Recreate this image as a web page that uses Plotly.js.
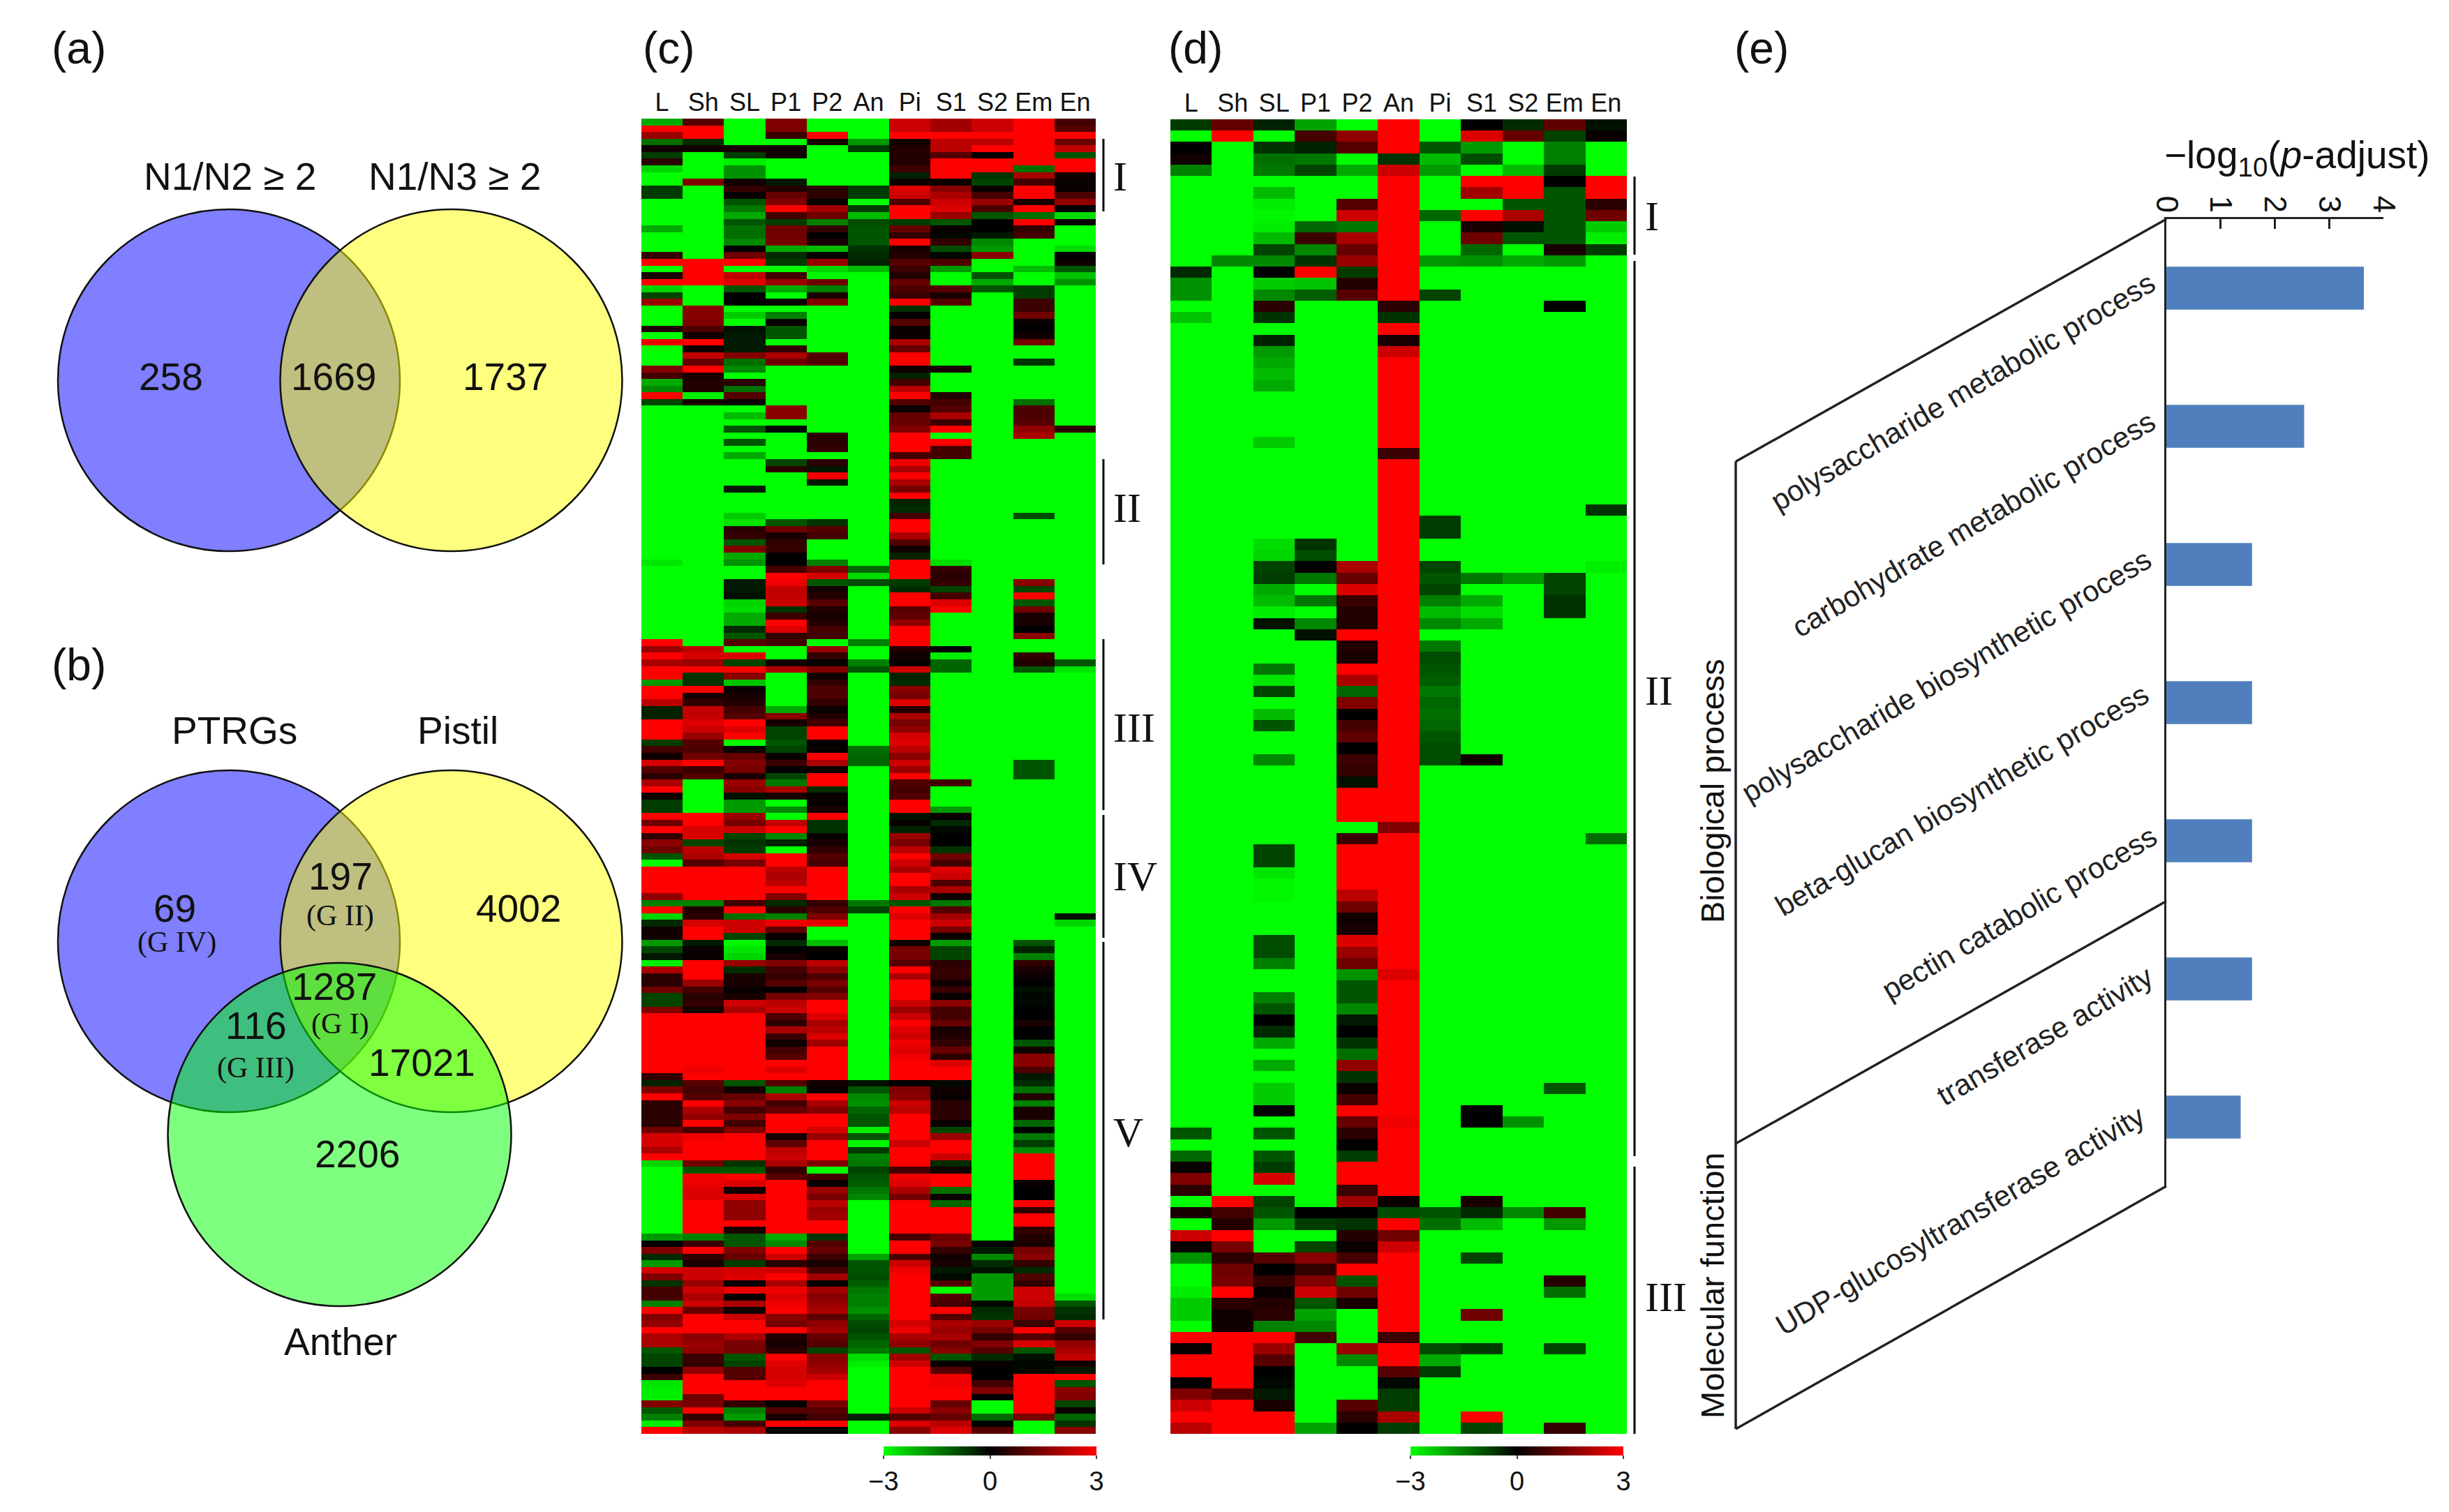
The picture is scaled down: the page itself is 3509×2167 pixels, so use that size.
<!DOCTYPE html>
<html><head><meta charset="utf-8">
<script src="https://cdn.plot.ly/plotly-3.0.1.min.js"></script>
<style>html,body{margin:0;padding:0;background:#fff}</style></head><body><div id="g" style="width:3509px;height:2167px"></div>
<script>
const tissues=["L","Sh","SL","P1","P2","An","Pi","S1","S2","Em","En"];
// (c) 197 genes, group I
const cL=[-2,3,1.8,-1.3,.2,-.7,.5,-2.5,-3,-3,
-.7,-.7,-3,-3,-3,-3,-2,-3,-3,-3,
.6,3,-3,.3,3,-2.5,-.8,1.8,-3,-3,
-3,.4,-3,2.8,-3,-3,-3,1.5,.8,-2,
-1.6,3,-.8,-3,-3,-3,-3,-3,-3,-3,
-3,-3,-3,-3,-3,-3,-3,-3,-3,-3,
-3,-3,-3,-3,-3,-3,-2.7,-3,-3,-3,
-3,-3,-3,-3,-3,-3,-3,-3,3,1.8,
3,2,3,3,-1.8,3,3,2.2,-.4,-.4,
3,3,3,-.7,.8,.2,2.5,1,.5,2,
3,.2,-.7,-.7,3,1.3,3,.6,1.6,1.3,
-1,-3,3,3,3,3,1.7,-1.5,3,-2.5,
-.5,.2,.2,-1.8,-.8,-.3,-2.8,2,.5,.5,
1.3,-.8,-.8,1.5,3,3,3,3,3,3,
3,3,3,.6,-.4,1.5,3,.5,.5,.5,
.5,1.3,2.5,2.5,2,3,-2.5,-3,-3,-3,
-3,-3,-3,-3,-3,-3,-3,-1.8,0,1.5,
-.5,-1.8,2.5,1.5,-.6,.8,.8,-1.5,3,1.5,
1.7,3,2,2,-1,-.8,-.8,0,.7,-2.7,
-2.8,-2.8,1.5,-1,-1.5,-2.8,3];
const cSh=[1,3,3,-.5,.2,-3,-3,-3,-3,1.5,
-3,-3,-3,-3,-3,-3,-3,-3,-3,-3,
-3,3,3,3,3,-3,-3,-3,1.6,1.6,
1.5,.9,.2,3,.2,2.3,1.2,3,.3,.4,
.4,-2.8,.3,-3,-3,-3,-3,-3,-3,-3,
-3,-3,-3,-3,-3,-3,-3,-3,-3,-3,
-3,-3,-3,-3,-3,-3,-3,-3,-3,-3,
-3,-3,-3,-3,-3,-3,-3,-3,-3,2.3,
2.5,1.8,3,-.6,-.6,3,.3,.6,2.3,2.3,
2.6,2.4,1.8,1,.9,1.3,3,.7,1,-3,
-3,-3,-3,-3,3,3,2.5,2.6,-.8,2.2,
2,1,3,3,3,3,3,-1.5,.4,.5,
2.5,3,3,-.3,.1,.1,3,3,3,1.8,
.8,.5,.6,.2,3,3,3,3,3,3,
3,3,2.8,3,1,.8,1,3,2,1.7,
3,.8,2.8,3,3,3,1.3,-1,2.8,2.8,
2.6,2.6,3,3,3,3,3,-1.5,.7,3,
.6,.3,2.4,2.4,1.8,2.4,2,2.4,1.2,3,
3,3,1.6,1.8,1.7,.7,.6,1.7,3,3,
3,1.3,1.4,3,.6,1.5,2.2];
const cSL=[-3,-3,-3,-3,.3,-.7,-2.8,-1.7,-1.7,.2,
.6,.1,-1,-1.4,-2,-1,-1.3,-1.3,-1.6,0,
1.3,3,-3,2.3,2.6,-1,0,0,-3,-2.4,
-3,-.2,-.3,-.3,-.3,1.5,-1.3,-1.6,-3,.5,
-1.3,1,.1,-3,-2.2,-3,-1,-3,-1,-3,
-2,-3,-3,-3,-3,-.3,-3,-3,-3,-2.4,
-2.7,.5,.6,-1,1.5,-2,-1.7,-3,-3,-.3,
-.3,-.2,-2.5,-2.6,-2,-2,-.5,-1,1,-3,
2.6,-.8,3,1.6,-2.3,.1,.3,.4,.8,1,
3,2.6,3,-3,.1,1.2,1.5,1.4,.3,1.8,
1.6,-.2,-1.8,-1.8,1.8,1.4,2.4,-.8,-.6,-.7,
2.5,1.4,3,3,3,3,3,.8,3,-1.3,
2.4,2.4,-.8,-2.9,-2.7,-2.5,1.8,-.5,.3,.3,
.1,.3,2.4,2,3,3,3,3,3,3,
3,3,3,3,-1,.2,1.2,1.6,.8,1.5,
.8,1.5,3,3,3,3,-.6,-1,3,2.6,
.2,2.6,1.7,1.7,1.7,3,.3,-1,-1,1.5,
1.2,-.7,2.5,2.6,.1,2.8,.1,2,.2,2.4,
3,3,2,1.4,1.4,-1,-.8,1,1,3,
3,3,.6,-1.5,-1.8,.8,2];
const cP1=[1.5,1.5,.7,-3,.2,.2,-3,-3,-3,-.3,
.4,1.2,1.5,3,.8,-.7,1.3,1.3,1.4,-2,
-.5,-.7,-3,.8,1.8,-2,-3,.1,-3,-1.5,
.1,-1,-1,-3,.6,2,1.3,-3,-3,-3,
-3,-3,-3,1.6,1.6,-3,0,-3,-3,-3,
-3,-.8,.5,-3,-3,-3,-3,-3,-3,-3,
-1,1.3,.3,.6,.6,0,0,.8,3,2.8,
2.3,2.3,2.4,-.6,.7,3,2.6,.6,.8,-3,
-3,.2,2,-3,-3,-3,-3,-3,-2,1.6,
.3,-.8,-.8,-1,-.8,.1,.7,0,-.8,-1.4,
2,.3,-3,-1.6,-3,2.3,3,-1.6,-.4,-3,
3,3,2.2,2,2.2,3,1.5,-.5,.5,-1.5,
2.8,1.1,.1,-.5,0,.3,1.5,.8,.6,1,
0,1.4,2.2,2.4,.9,.5,2,.7,.2,.8,
1,3,2.6,3,1,-1.5,2,.8,1.2,3,
3,3,.3,1.1,2.2,2.4,2,.6,1,3,
3,3,3,3,3,3,3,-2,-1.6,3,
2.4,.5,2.4,3,2,2.8,2.6,2.8,3,1.6,
1.4,3,.4,.3,.5,3,2.6,2.5,2.5,2.6,
3,3,0,1,.3,3,0];
const cP2=[-3,-3,3,.3,-3,-3,-3,-3,-3,-3,
.5,.5,0,1.9,1.3,-1.5,.6,0,.3,-2.2,
0,1.8,-2.5,-2.9,1.3,-1.5,.3,1.5,-3,-3,
-3,-3,-3,-3,-3,1,1,-3,-3,-3,
-3,-3,-3,-3,-3,-3,-3,.5,.5,.6,
-3,.5,-.3,2.8,-.3,-3,-3,-3,-3,-3,
-.6,1,.8,-3,-3,-3,-1.5,1.5,2.5,-1,
.2,.4,1,.4,.3,.4,.8,.8,-3,1.8,
.6,.1,1.5,.2,.6,.9,.9,.6,.1,.4,
.8,3,3,0,.1,3,2,.1,3,3,
-.5,.1,.1,.3,3,-.6,-.6,.1,.3,.6,
1,.8,3,3,3,3,3,.6,.9,1.5,
2.7,-3,-3,-2.2,.1,0,2.2,1.6,.9,1.4,
1,1.5,3,3,2.6,2,2.2,2.6,1.9,3,
3,3,3,3,.2,.1,3,2,1.5,3,
3,2.5,1.8,3,3,3,1.5,-3,.8,.1,
1.8,1.4,2.2,1.8,1.9,3,3,-.6,1,1.2,
.7,.3,.8,1.9,0,1.9,1.6,1.8,2,1.1,
1.7,1.9,1.2,1,-.8,1.6,1.7,1.9,2.4,3,
3,3,1.4,1,.8,3,0];
const cAn=[-3,-3,-3,-1.8,-.7,-3,-3,-3,-3,-3,
-.7,-.7,-3,-.7,-2.2,-.9,-1,-1,-1,-.6,
-.5,-.4,-2.2,-3,-3,-3,-3,-3,-3,-3,
-3,-3,-3,-3,-3,-3,-3,-3,-3,-3,
-3,-3,-3,-3,-3,-3,-3,-3,-3,-3,
-3,-3,-3,-3,-3,-3,-3,-3,-3,-3,
-3,-3,-3,-3,-3,-3,-3,-1.2,-2.6,-.9,
-3,-3,-3,-3,-3,-3,-3,-3,-1.5,-3,
-3,-1.5,-1,-3,-3,-3,-3,-3,-3,-3,
-3,-3,-3,-3,-1.3,-1.2,-1.2,-3,-3,-3,
-3,-3,-3,-3,-3,-3,-3,-3,-3,-3,
-3,-3,-3,-3,-3,-3,-3,-1.4,-.8,-3,
-3,-3,-3,-3,-3,-3,-3,-3,-3,-3,
-3,-3,-3,-3,-3,-3,-3,-3,-3,-3,
-3,-3,-3,-3,-.2,-1,-1.6,-1.7,-1.2,-1,
-1,-2.8,-1,-2.9,-.7,-1.5,-1.4,-.8,-1,-1.1,
-1.4,-1.6,-3,-3,-3,-3,-3,-3,-3,-3,
-1.9,-1,-1,-.9,-1.1,-1.4,-1.5,-1.5,-1.7,-1.2,
-.9,-.8,-1,-1.2,-1.4,-2.6,-2.8,-3,-3,-3,
-3,-3,-3,-3,-.4,-3,-3];
const cPi=[2.4,2.4,3,.2,.4,.4,.4,.7,-.4,.2,
2.6,2.4,.9,3,3,-.7,1.2,.6,3,.3,
.4,1,.7,.4,1.2,.9,.7,3,-.6,0,
1,.1,.1,2,1.2,3,3,.2,-.4,.8,
2.2,3,1,.1,1.2,1.2,1.5,3,3,3,
.8,2.8,2,3,2,1.4,3,-.4,-.5,.8,
3,3,2,1,.2,-.4,3,3,3,-.7,
-.5,3,3,1,1.1,1.7,3,3,3,.4,
.2,.1,2.4,-.4,-.5,1.6,1.4,2.6,.4,2,
1.4,1.7,2.5,2.6,2.2,1.6,2.4,1.8,3,.9,
.8,.9,3,3,-.2,.1,-.4,1.8,1.4,2.2,
3,2.4,2,3,3,2,2.4,-1,3,2.6,
3,3,3,.2,1.4,1.4,1,3,2,3,
3,3,2.4,1.8,2.4,3,2.6,2.4,2.8,2.6,
2.8,3,3,3,0,1.5,1.6,2.4,2.2,3,
3,3,3,2.4,3,3,3,.8,2.8,2.6,
2,1.4,3,3,3,3,3,.8,3,3,
.9,2.4,2.8,3,3,3,3,3,3,3,
2.5,2.8,2,1.7,-1,1.9,2.4,3,3,3,
3,3,3,2.4,1,2.6,1.6];
const cS1=[1.9,1.9,3,2.2,2.2,1,3,3,3,.1,
1.6,2,2.4,2.6,1.8,-1,.1,-.1,.6,-.9,
-.1,.9,-1.8,-3,-3,1,.3,1,-3,-3,
-3,-3,-3,-3,-3,-3,-3,.3,-3,-3,
-3,.4,.8,1,2,.7,3,-3,3,.8,
.8,-3,-3,-3,-3,-3,-3,-3,-3,-3,
-3,-3,-3,-3,-3,-3,-2.6,.6,.5,.6,
-.8,.8,2.6,3,-3,-3,-3,-3,-3,0,
-2.8,-1.2,-1.2,-3,-3,-3,-3,-3,-3,-3,
-3,-3,-3,-3,-3,-3,-3,-3,-3,.8,
-3,-3,-3,-1.8,.1,-.5,-.1,0,0,-.6,
1.3,.8,2.6,2.4,.9,2,.2,-1.4,1,1.9,
2.4,1.4,.1,-1.8,-.8,-.8,.5,.6,.6,.2,
.7,.1,1.6,.8,.8,1.2,.3,.4,.6,1.2,
.5,2.6,3,3,-.1,.2,.1,.5,.5,.5,
.1,-.8,1.8,3,3,2.4,-.5,.2,3,3,
-1.3,.1,-1.2,3,3,3,3,1.3,1.4,.6,
.2,.3,-.3,-.1,1,-3,1,.8,3,1,
2,1.8,2,1.3,1.6,-1,.1,1,2.8,2.8,
3,3,1.2,1.6,1.2,2.2,2.6];
const cS2=[2.4,2.4,3,2.2,3,0,3,3,-.6,-.8,
.1,.8,1.8,.9,-1,0,0,-.3,-1.6,-1.8,
1.6,-3,-3,-1,-2,-1,-3,-3,-3,-3,
-3,-3,-3,-3,-3,-3,-3,-3,-3,-3,
-3,-3,-3,-3,-3,-3,-3,-3,-3,-3,
-3,-3,-3,-3,-3,-3,-3,-3,-3,-3,
-3,-3,-3,-3,-3,-3,-3,-3,-3,-3,
-3,-3,-3,-3,-3,-3,-3,-3,-3,-3,
-3,-3,-3,-3,-3,-3,-3,-3,-3,-3,
-3,-3,-3,-3,-3,-3,-3,-3,-3,-3,
-3,-3,-3,-3,-3,-3,-3,-3,-3,-3,
-3,-3,-3,-3,-3,-3,-3,-3,-3,-3,
-3,-3,-3,-3,-3,-3,-3,-3,-3,-3,
-3,-3,-3,-3,-3,-3,-3,-3,-3,-3,
-3,-3,-3,-3,-3,-3,-3,-3,-3,-3,
-3,-3,-3,-3,-3,-3,-3,-3,-3,-3,
-3,-3,-3,-3,-3,-3,-3,-3,0,-.3,
-1.6,-.5,-.2,-1.8,-1.8,-1.8,-1.8,-.1,-.5,-.6,
1.8,1.4,.6,1.5,1,-.5,.1,0,0,.8,
1.5,0,-3,-3,-1.2,0,1];
const cEm=[3,3,3,3,3,3,3,-1.3,2,.8,
3,3,.3,3,-1.3,3,.6,.8,-3,-3,
-3,-3,-2.2,-3,-3,-.7,-.7,.7,.7,1.3,
.1,0,.2,1.4,-3,-3,-.6,-3,-3,-3,
-3,-3,-1.3,.9,.9,1,1.7,2,-3,-3,
-3,-3,-3,-3,-3,-3,-3,-3,-3,-.9,
-3,-3,-3,-3,-3,-3,-3,-3,-3,1.6,
-.8,3,-1,1.3,.3,.3,0,1.6,-3,-3,
.6,.4,-1,-3,-3,-3,-3,-3,-3,-3,
-3,-3,-3,-3,-3,-3,-1,-1,-1,-3,
-3,-3,-3,-3,-3,-3,-3,-3,-3,-3,
-3,-3,-3,-3,-3,-3,-3,-3,-3,-3,
-3,-3,-3,-1,-.4,-1.5,.6,.3,.1,0,
-.2,-.1,-.1,0,0,.3,0,0,-1,.2,
1.6,1.6,.9,-.3,-.5,-1.3,.4,-1.5,.3,.3,
-1.2,0,-1.4,-.7,-1.6,3,3,3,3,.1,
0,0,3,.6,3,3,.6,.4,.3,1.4,
1.6,.6,-.5,.9,.6,2.4,2.4,2.3,1.4,1.3,
.7,3,1,2.6,-1,-.2,-.1,-.1,3,3,
3,3,3,3,1.4,-3,-3];
const cEn=[.8,1,3,1.2,2.3,-1,3,3,.2,.1,
.1,.9,1.7,0,-2.6,.1,-3,-3,-3,-2.6,
0,.2,-1,-2.3,-1.7,-3,-3,-3,-3,-3,
-3,-3,-3,-3,-3,-3,-3,-3,-3,-3,
-3,-3,-3,-3,-3,-3,.5,-3,-3,-3,
-3,-3,-3,-3,-3,-3,-3,-3,-3,-3,
-3,-3,-3,-3,-3,-3,-3,-3,-3,-3,
-3,-3,-3,-3,-3,-3,-3,-3,-3,-3,
-3,-1,-2.7,-3,-3,-3,-3,-3,-3,-3,
-3,-3,-3,-3,-3,-3,-3,-3,-3,-3,
-3,-3,-3,-3,-3,-3,-3,-3,-3,-3,
-3,-3,-3,-3,-3,-3,-3,-3,-3,-.2,
-2.5,-3,-3,-3,-3,-3,-3,-3,-3,-3,
-3,-3,-3,-3,-3,-3,-3,-3,-3,-3,
-3,-3,-3,-3,-3,-3,-3,-3,-3,-3,
-3,-3,-3,-3,-3,-3,-3,-3,-3,-3,
-3,-3,-3,-3,-3,-3,-3,-3,-3,-3,
-3,-3,-3,-3,-3,-3,-2.6,-1,-.6,-.5,
2.4,1,.6,1.7,2,2.3,.2,-.3,3,-1,
1.6,1.5,-.8,.1,-1.2,-.6,1.6];
// (d) 116 genes, group III
const dL=[-.7,-3,0,.2,-1.5,-3,-3,-3,-3,-3,
-3,-3,-3,-.5,-1.7,-1.7,-3,-2.3,-3,-3,
-3,-3,-3,-3,-3,-3,-3,-3,-3,-3,
-3,-3,-3,-3,-3,-3,-3,-3,-3,-3,
-3,-3,-3,-3,-3,-3,-3,-3,-3,-3,
-3,-3,-3,-3,-3,-3,-3,-3,-3,-3,
-3,-3,-3,-3,-3,-3,-3,-3,-3,-3,
-3,-3,-3,-3,-3,-3,-3,-3,-3,-3,
-3,-3,-3,-3,-3,-3,-3,-3,-3,-1,
-3,-1.2,.1,1.5,.5,-3,.3,-3,2.4,.1,
-1.7,-3,-3,-2.8,-2.4,-2.4,-3,3,.1,3,
3,0,1.5,2.4,3,2.2];
const dSh=[1.2,3,-3,-3,-3,-3,-3,-3,-3,-3,
-3,-3,-1.6,-3,-3,-3,-3,-3,-3,-3,
-3,-3,-3,-3,-3,-3,-3,-3,-3,-3,
-3,-3,-3,-3,-3,-3,-3,-3,-3,-3,
-3,-3,-3,-3,-3,-3,-3,-3,-3,-3,
-3,-3,-3,-3,-3,-3,-3,-3,-3,-3,
-3,-3,-3,-3,-3,-3,-3,-3,-3,-3,
-3,-3,-3,-3,-3,-3,-3,-3,-3,-3,
-3,-3,-3,-3,-3,-3,-3,-3,-3,-3,
-3,-3,-3,-3,-3,3,.8,.4,3,1.4,
.5,1.3,1.4,3,.5,.2,.2,3,3,3,
3,3,1,3,3,3];
const dSL=[-.4,-3,-.6,-1.3,-1.4,-3,-2.2,-2.8,-2.9,-2.8,
-2.2,-.8,-1.6,0,-2.4,-1.6,.5,-.6,-3,-.4,
-1.8,-2,-2.2,-2,-3,-3,-3,-3,-2.4,-3,
-3,-3,-3,-3,-3,-3,-3,-2.6,-2.5,-.8,
-.7,-2,-2.2,-2.8,-.2,-3,-3,-3,-1.4,-2.7,
-.8,-3,-2.2,-1,-3,-3,-1.6,-3,-3,-3,
-3,-3,-3,-3,-.8,-.8,-2.7,-2.9,-2.9,-3,
-3,-3,-.9,-.9,-1.5,-3,-3,-1.5,-1,0,
-.5,-2,-3,-2,-3,-2.4,-2.4,0,-3,-1,
-3,-1,-.7,2.5,-3,-.8,-1,-1.8,-3,-3,
1,0,.6,.1,.4,.5,-1.5,3,1.8,1,
0,-.1,-.3,.3,3,3];
const dP1=[-1.9,.8,-.4,-1.4,-.8,-3,-3,-3,-3,-1.2,
.7,-1.6,-.6,3,-2.3,-1.1,-3,-3,-3,-3,
-3,-3,-3,-3,-3,-3,-3,-3,-3,-3,
-3,-3,-3,-3,-3,-3,-3,-.6,-.9,0,
-1.4,-3,-1.4,-3,-1.6,-.2,-3,-3,-3,-3,
-3,-3,-3,-3,-3,-3,-3,-3,-3,-3,
-3,-3,-3,-3,-3,-3,-3,-3,-3,-3,
-3,-3,-3,-3,-3,-3,-3,-3,-3,-3,
-3,-3,-3,-3,-3,-3,-3,-3,-3,-3,
-3,-3,-3,-3,-3,-3,0,-.7,-3,-.8,
1.6,.6,1.5,2.4,-1,-1.9,-1.6,.8,-3,-3,
-3,-3,-3,-3,-3,-1.9];
const dP2=[-3,1.7,1,-3,-2,-3,-3,1,2.4,-1.4,
2,1.2,1.8,-.7,.4,1,-3,-3,-3,-3,
-3,-3,-3,-3,-3,-3,-3,-3,-3,-3,
-3,-3,-3,-3,-3,-3,-3,-3,-3,2,
1.2,2.6,.7,.4,.4,3,.4,.3,3,2,
-1.2,1.5,0,.8,1.1,0,.7,.6,-.2,3,
3,3,-3,.7,3,3,3,3,2.2,1.3,
.2,.3,2.6,1.8,1.3,-1.7,-1,-1,-1.6,-.3,
0,-.6,-1.3,1.7,-.6,.1,.8,3,1.2,.5,
0,-.7,3,3,.7,1.9,0,-.6,.4,.1,
.8,3,-1,1.3,.3,-3,-3,-3,1.8,-1.6,
-3,-3,-3,1,.5,0];
const dAn=[3,3,3,-.6,2.4,3,3,3,3,3,
3,3,3,3,3,3,.5,-.6,3,.3,
2.4,3,3,3,3,3,3,3,3,.7,
3,3,3,3,3,3,3,3,3,3,
3,3,3,3,3,3,3,3,3,3,
3,3,3,3,3,3,3,3,3,3,
3,3,1.5,3,3,3,3,3,3,3,
3,3,3,3,3,2.6,3,3,3,3,
3,3,3,3,3,3,3,3,2.8,3,
3,3,3,3,3,.1,-.9,3,1.3,2.4,
3,3,3,3,3,3,3,.7,3,3,
1,-.1,-.7,-.7,2,-.7];
const dPi=[-3,-3,-1,-2.2,-1.8,-3,-3,-3,-1.2,-3,
-3,-3,-1.8,-3,-3,-.8,-3,-3,-3,-3,
-3,-3,-3,-3,-3,-3,-3,-3,-3,-3,
-3,-3,-3,-3,-3,-.7,-.7,-3,-3,-.8,
-1,-.8,-1.5,-2.2,-1.6,-3,-1.4,-.9,-1,-1.1,
-1.4,-1.2,-1.3,-1.2,-1,-.9,-.9,-3,-3,-3,
-3,-3,-3,-3,-3,-3,-3,-3,-3,-3,
-3,-3,-3,-3,-3,-3,-3,-3,-3,-3,
-3,-3,-3,-3,-3,-3,-3,-3,-3,-3,
-3,-3,-3,-3,-3,-3,-1,-1.3,-3,-3,
-3,-3,-3,-3,-3,-3,-3,-3,-.9,-2,
-.7,-3,-3,-3,-3,-3];
const dS1=[0,2.6,-1.8,-.9,-3,3,1.9,-3,3,.3,
1.3,-1.2,-1.7,-3,-3,-3,-3,-3,-3,-3,
-3,-3,-3,-3,-3,-3,-3,-3,-3,-3,
-3,-3,-3,-3,-3,-3,-3,-3,-3,-3,
-1.4,-3,-2,-2.6,-2,-3,-3,-3,-3,-3,
-3,-3,-3,-3,-3,-3,.2,-3,-3,-3,
-3,-3,-3,-3,-3,-3,-3,-3,-3,-3,
-3,-3,-3,-3,-3,-3,-3,-3,-3,-3,
-3,-3,-3,-3,-3,-3,-3,0,0,-3,
-3,-3,-3,-3,-3,.3,-.5,-2.2,-3,-3,
-.8,-3,-3,-3,-3,1.3,-3,-3,-.7,-3,
-3,-3,-3,-3,3,-.8];
const dS2=[-.5,1.2,-3,-3,-2.2,3,3,-1,2,-.2,
-1,-3,-2,-3,-3,-3,-3,-3,-3,-3,
-3,-3,-3,-3,-3,-3,-3,-3,-3,-3,
-3,-3,-3,-3,-3,-3,-3,-3,-3,-3,
-1.8,-3,-3,-3,-3,-3,-3,-3,-3,-3,
-3,-3,-3,-3,-3,-3,-3,-3,-3,-3,
-3,-3,-3,-3,-3,-3,-3,-3,-3,-3,
-3,-3,-3,-3,-3,-3,-3,-3,-3,-3,
-3,-3,-3,-3,-3,-3,-3,-3,-1.7,-3,
-3,-3,-3,-3,-3,-3,-1.6,-3,-3,-3,
-3,-3,-3,-3,-3,-3,-3,-3,-3,-3,
-3,-3,-3,-3,-3,-3];
const dEm=[1.1,-.8,-1.5,-1.5,-.7,0,-1,-1,-1,-1,
-1,.3,-1.8,-3,-3,-3,0,-3,-3,-3,
-3,-3,-3,-3,-3,-3,-3,-3,-3,-3,
-3,-3,-3,-3,-3,-3,-3,-3,-3,-3,
-.8,-.8,-.6,-.6,-3,-3,-3,-3,-3,-3,
-3,-3,-3,-3,-3,-3,-3,-3,-3,-3,
-3,-3,-3,-3,-3,-3,-3,-3,-3,-3,
-3,-3,-3,-3,-3,-3,-3,-3,-3,-3,
-3,-3,-3,-3,-3,-1,-3,-3,-3,-3,
-3,-3,-3,-3,-3,-3,.8,-1.8,-3,-3,
-3,-3,.4,-1.3,-3,-3,-3,-3,-.8,-3,
-3,-3,-3,-3,-3,.6];
const dEn=[-.2,.1,-3,-3,-3,3,3,.5,1.3,-2.4,
-2.8,-.7,-3,-3,-3,-3,-3,-3,-3,-3,
-3,-3,-3,-3,-3,-3,-3,-3,-3,-3,
-3,-3,-3,-3,-.6,-3,-3,-3,-3,-2.8,
-3,-3,-3,-3,-3,-3,-3,-3,-3,-3,
-3,-3,-3,-3,-3,-3,-3,-3,-3,-3,
-3,-3,-3,-1.3,-3,-3,-3,-3,-3,-3,
-3,-3,-3,-3,-3,-3,-3,-3,-3,-3,
-3,-3,-3,-3,-3,-3,-3,-3,-3,-3,
-3,-3,-3,-3,-3,-3,-3,-3,-3,-3,
-3,-3,-3,-3,-3,-3,-3,-3,-3,-3,
-3,-3,-3,-3,-3,-3];
// (e) enrichment
const goTerms=["polysaccharide metabolic process","carbohydrate metabolic process","polysaccharide biosynthetic process","beta-glucan biosynthetic process","pectin catabolic process","transferase activity","UDP-glucosyltransferase activity"];
const goValues=[3.64,2.54,1.58,1.58,1.58,1.58,1.37];
// Venn counts
const vennA=["258","1669","1737"];
const vennB=["69","197","4002","1287","116","17021","2206"];

const W=3509,H=2167;
const X=v=>v/W, Y=v=>1-v/H;
const cCols=[cL,cSh,cSL,cP1,cP2,cAn,cPi,cS1,cS2,cEm,cEn];
const dCols=[dL,dSh,dSL,dP1,dP2,dAn,dPi,dS1,dS2,dEm,dEn];
const toRows=cols=>cols[0].map((_,r)=>cols.map(c=>c[r]));
const scale=[[0,'#00ff00'],[.5,'#000000'],[1,'#ff0000']];
const sans='"Liberation Sans",Arial,sans-serif', serif='"Liberation Serif","Times New Roman",serif';
const cb=(cx,len)=>({orientation:'h',x:X(cx),xanchor:'center',y:Y(2073),yanchor:'top',thicknessmode:'pixels',thickness:13,lenmode:'pixels',len:len,xpad:0,ypad:0,outlinewidth:0,
 tickmode:'array',tickvals:[-3,0,3],ticktext:['−3','0','3'],ticks:'outside',ticklen:5,tickwidth:2,tickcolor:'#444',tickfont:{family:sans,size:38,color:'#111'}});
const traces=[
 {type:'heatmap',x:tissues,z:toRows(cCols),xaxis:'x',yaxis:'y',zmin:-3,zmax:3,colorscale:scale,colorbar:cb(1418.5,305),hoverinfo:'skip'},
 {type:'heatmap',x:tissues,z:toRows(dCols),xaxis:'x2',yaxis:'y2',zmin:-3,zmax:3,colorscale:scale,colorbar:cb(2173.5,305),hoverinfo:'skip'},
 {type:'bar',orientation:'h',x:goValues,y:goTerms,xaxis:'x3',yaxis:'y3',marker:{color:'#4f80bd',line:{width:0}},showlegend:false}
];
const hx=(a,b,y0,y1)=>({
 x:{domain:[X(a),X(b)],side:'top',anchor:y0,tickfont:{family:sans,size:36,color:'#111'},ticks:'',ticklabelstandoff:3,showline:false,showgrid:false,zeroline:false,fixedrange:true,tickangle:0},
 y:{domain:[Y(2055),Y(y1)],autorange:'reversed',visible:false,anchor:y0==='y'?'x':'x2',fixedrange:true}
});
const h1=hx(919,1570,'y',170), h2=hx(1677,2331,'y2',171);
const lineC='#222';
const ln=(x0,y0,x1,y1,w=3.5,c=lineC)=>({type:'line',xref:'paper',yref:'paper',x0:X(x0),x1:X(x1),y0:Y(y0),y1:Y(y1),line:{color:c,width:w}});
const circ=(cx,cy,r,col)=>({type:'circle',xref:'paper',yref:'paper',x0:X(cx-r),x1:X(cx+r),y0:Y(cy-r),y1:Y(cy+r),fillcolor:col,line:{color:'#111',width:2.5},layer:'below'});
const blue='rgba(0,0,255,.5)',yel='rgba(255,255,0,.5)',grn='rgba(0,255,0,.5)';
const shapes=[
 circ(328,545,245,blue),circ(646.5,545,245,yel),
 circ(328,1349,245,blue),circ(646.5,1349,245,yel),circ(486.5,1626,246,grn),
 // (c) brackets
 ln(1581,199,1581,303,3,'#000'),ln(1581,658,1581,809,3,'#000'),ln(1581,916,1581,1161,3,'#000'),ln(1581,1168,1581,1344,3,'#000'),ln(1581,1350,1581,1891,3,'#000'),
 // (d) brackets
 ln(2342,253,2342,365,3,'#000'),ln(2342,374,2342,1657,3,'#000'),ln(2342,1672,2342,2055,3,'#000'),
 // (e) parallelogram
 ln(3104,314,2487,661.5),ln(2487,661.5,2487,2048),ln(2487,2048,3104,1700),ln(3104,1291.6,2487,1639)
];
const T=(text,x,y,size,opt={})=>Object.assign({xref:'paper',yref:'paper',x:X(x),y:Y(y),text,showarrow:false,xanchor:'center',yanchor:'middle',font:{family:sans,size,color:'#111'},borderpad:0},opt);
const RS=(text,x,y)=>T(text,x,y,60,{xanchor:'left',font:{family:serif,size:60,color:'#111'}});
const GL=(text,x,y)=>T(text,x,y,42,{font:{family:serif,size:42,color:'#111'}});
const termCentres=[[2812,561],[2827,751],[2789,969],[2811,1146],[2893,1308],[2930,1485],[2808,1749]];
const annotations=[
 T('(a)',113,69,64),T('(b)',113,953,64),T('(c)',958,69,64),T('(d)',1713,69,64),T('(e)',2524,69,64),
 T('N1/N2 ≥ 2',329,253,55),T('N1/N3 ≥ 2',651,253,55),
 T(vennA[0],245,540,55),T(vennA[1],478,540,55),T(vennA[2],724,540,55),
 T('PTRGs',336,1047,55),T('Pistil',656,1047,55),T('Anther',488,1923,55),
 T(vennB[0],250,1302,55),GL('(G IV)',253.5,1350),
 T(vennB[1],488,1256,55),GL('(G II)',487,1312),
 T(vennB[2],743,1302,55),
 T(vennB[3],479,1414,55),GL('(G I)',487,1467),
 T(vennB[4],367,1470,55),GL('(G III)',366,1530),
 T(vennB[5],604,1523,55),T(vennB[6],512,1654,55),
 RS('I',1594,253),RS('II',1594,728),RS('III',1594,1043),RS('IV',1594,1256),RS('V',1594,1623),
 RS('I',2356,310),RS('II',2356,990),RS('III',2356,1859),
 T('−log<sub>10</sub>(<i>p</i>-adjust)',3291,226,55),
 T('Biological process',2453,1134,47,{textangle:-90}),
 T('Molecular function',2453,1843,47,{textangle:-90}),
 ...goTerms.map((t,i)=>T(t,termCentres[i][0],termCentres[i][1],42,{textangle:-30.5,font:{family:sans,size:42,color:'#222'}}))
];
const layout={
 width:W,height:H,margin:{l:0,r:0,t:0,b:0,pad:0,autoexpand:false},paper_bgcolor:'#fff',plot_bgcolor:'rgba(0,0,0,0)',showlegend:false,
 font:{family:sans,color:'#111'},
 xaxis:h1.x,yaxis:h1.y,xaxis2:h2.x,yaxis2:h2.y,
 xaxis3:{domain:[X(3104),X(3415)],range:[0,4],side:'top',anchor:'y3',dtick:1,tick0:0,ticks:'inside',ticklen:14,tickwidth:3,tickcolor:lineC,showline:true,linewidth:3.5,linecolor:lineC,showgrid:false,zeroline:false,tickangle:90,ticklabelstandoff:-10,tickfont:{family:sans,size:44,color:'#111'},fixedrange:true},
 yaxis3:{domain:[Y(1700),Y(314)],type:'category',categoryorder:'array',categoryarray:goTerms,autorange:'reversed',anchor:'x3',side:'left',showline:true,linewidth:3.5,linecolor:lineC,showgrid:false,zeroline:false,ticks:'',showticklabels:false,fixedrange:true},
 bargap:.69,shapes,annotations
};
Plotly.newPlot('g',traces,layout,{displayModeBar:false,responsive:false,staticPlot:true});
</script></body></html>
